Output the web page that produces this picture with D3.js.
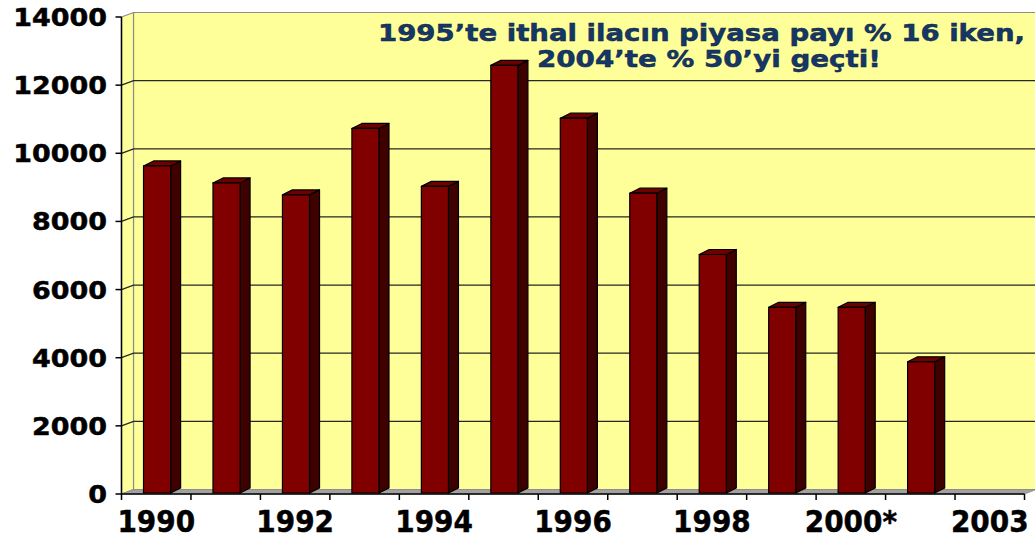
<!DOCTYPE html>
<html>
<head>
<meta charset="utf-8">
<script src="https://cdn.jsdelivr.net/npm/d3@7/dist/d3.min.js"></script>
<style>
  html, body { margin: 0; padding: 0; background: #ffffff; }
  svg { display: block; }
</style>
</head>
<body>
<svg id="chart" width="1035" height="543"></svg>
<script>
// Yearly values (one bar per year; the last year has no value)
const categories = ["1990", "1991", "1992", "1993", "1994", "1995", "1996",
                    "1997", "1998", "1999", "2000*", "2001", "2003"];
const values = [9600, 9100, 8750, 10700, 9000, 12550, 11000,
                8800, 7000, 5450, 5450, 3850, null];
const yTicks = [0, 2000, 4000, 6000, 8000, 10000, 12000, 14000];
const titleLines = ["1995’te ithal ilacın piyasa payı % 16 iken,",
                    "2004’te % 50’yi geçti!"];

const svg = d3.select("#chart");

// Front plane scales
const x = d3.scaleBand().domain(categories).range([121.5, 1024.5]).paddingInner(0).paddingOuter(0);
const y = d3.scaleLinear().domain([0, 14000]).range([494, 17]);

// 3D offsets: walls and bar depth
const wallDx = 12, wallDy = -4.5;
const barDx = 10, barDy = -5;
const barLift = -1;

const x0 = x.range()[0], x1 = x.range()[1];
const yTop = y(14000), yBase = y(0);

// Back wall
svg.append("polygon")
  .attr("points", [[x0 + wallDx, yTop + wallDy], [x1 + wallDx, yTop + wallDy],
                   [x1 + wallDx, yBase + wallDy], [x0 + wallDx, yBase + wallDy]].join(" "))
  .attr("fill", "#ffff99").attr("stroke", "#8c8c8c").attr("stroke-width", 1.2);

// Left side wall
svg.append("polygon")
  .attr("points", [[x0, yTop], [x0 + wallDx, yTop + wallDy],
                   [x0 + wallDx, yBase + wallDy], [x0, yBase]].join(" "))
  .attr("fill", "#ffff99").attr("stroke", "#8c8c8c").attr("stroke-width", 1.2);

// Floor
svg.append("polygon")
  .attr("points", [[x0, yBase], [x1, yBase], [x1 + wallDx, yBase + wallDy],
                   [x0 + wallDx, yBase + wallDy]].join(" "))
  .attr("fill", "#a0a0a0").attr("stroke", "#8c8c8c").attr("stroke-width", 0.8);

// Gridlines on the side wall and back wall
const grid = svg.append("g").attr("stroke", "#262626").attr("stroke-width", 1.3).attr("fill", "none");
yTicks.filter(v => v > 0 && v < 14000).forEach(v => {
  grid.append("path")
    .attr("d", `M${x0},${y(v)}L${x0 + wallDx},${y(v) + wallDy}L${x1 + wallDx},${y(v) + wallDy}`);
});

// 3D bars
const barFrac0 = 0.317, barFrac = 0.39;
const bars = svg.append("g").attr("stroke", "#000").attr("stroke-width", 1.2).attr("stroke-linejoin", "round");
categories.forEach((c, i) => {
  const v = values[i];
  if (v == null) return;
  const bx = x(c) + x.bandwidth() * barFrac0;
  const bw = x.bandwidth() * barFrac;
  const top = y(v) + barLift;
  const base = y(0) + barLift;
  const g = bars.append("g");
  g.append("polygon")
    .attr("points", [[bx + bw, top], [bx + bw + barDx, top + barDy],
                     [bx + bw + barDx, base + barDy], [bx + bw, base]].join(" "))
    .attr("fill", "#3f0000");
  g.append("polygon")
    .attr("points", [[bx, top], [bx + barDx, top + barDy],
                     [bx + bw + barDx, top + barDy], [bx + bw, top]].join(" "))
    .attr("fill", "#6e0000");
  g.append("rect")
    .attr("x", bx).attr("y", top).attr("width", bw).attr("height", base - top)
    .attr("fill", "#800000");
});

// Y axis
const yAxis = svg.append("g");
yAxis.append("line").attr("x1", x0).attr("x2", x0).attr("y1", yTop).attr("y2", yBase)
  .attr("stroke", "#000").attr("stroke-width", 1.5);
yTicks.forEach(v => {
  yAxis.append("line").attr("x1", x0 - 6).attr("x2", x0).attr("y1", y(v)).attr("y2", y(v))
    .attr("stroke", "#000").attr("stroke-width", 1.5);
  yAxis.append("text")
    .attr("transform", `translate(107,${y(v) + 9}) scale(1.1,1)`)
    .attr("text-anchor", "end")
    .attr("font-family", "DejaVu Sans, Verdana, sans-serif")
    .attr("font-weight", "bold")
    .attr("font-size", 24.5)
    .attr("fill", "#000")
    .attr("stroke", "#000").attr("stroke-width", 0.5)
    .text(d3.format("d")(v));
});

// X axis
const xAxis = svg.append("g");
xAxis.append("line").attr("x1", x0).attr("x2", x1).attr("y1", yBase).attr("y2", yBase)
  .attr("stroke", "#000").attr("stroke-width", 1.5);
categories.concat([null]).forEach((c, i) => {
  const tx = c == null ? x1 : x(c);
  xAxis.append("line").attr("x1", tx).attr("x2", tx).attr("y1", yBase).attr("y2", yBase + 6)
    .attr("stroke", "#000").attr("stroke-width", 1.5);
});
categories.forEach((c, i) => {
  if (i % 2 !== 0) return;
  xAxis.append("text")
    .attr("transform", `translate(${x(c) + x.bandwidth() / 2},532) scale(0.9,1)`)
    .attr("text-anchor", "middle")
    .attr("font-family", "DejaVu Sans, Verdana, sans-serif")
    .attr("font-weight", "bold")
    .attr("font-size", 31)
    .attr("fill", "#000")
    .attr("stroke", "#000").attr("stroke-width", 0.5)
    .text(c);
});

// Title annotation
const titleSpans = [
  { text: titleLines[0], x: 378, y: 41, len: 647 },
  { text: titleLines[1], x: 537, y: 67, len: 344 }
];
titleSpans.forEach(t => {
  svg.append("text")
    .attr("x", t.x).attr("y", t.y)
    .attr("textLength", t.len).attr("lengthAdjust", "spacingAndGlyphs")
    .attr("font-family", "DejaVu Sans, Verdana, sans-serif")
    .attr("font-weight", "bold")
    .attr("font-size", 23.5)
    .attr("fill", "#143766")
    .attr("stroke", "#0d2444").attr("stroke-width", 0.5)
    .text(t.text);
});
</script>
</body>
</html>
